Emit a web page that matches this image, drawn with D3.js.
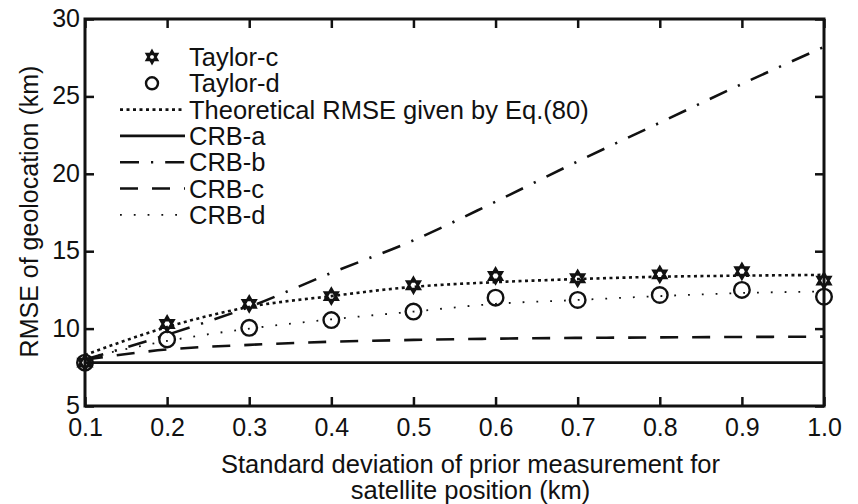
<!DOCTYPE html>
<html>
<head>
<meta charset="utf-8">
<script src="https://cdn.jsdelivr.net/npm/d3@7"></script>
<style>
  body { margin: 0; background: #fff; }
  svg { display: block; font-family: "Liberation Sans", Arial, sans-serif; }
</style>
</head>
<body>
<svg id="chart" width="858" height="504"></svg>
<script>
// std. deviation of prior satellite position (km)
const sigma = [0.1, 0.2, 0.3, 0.4, 0.5, 0.6, 0.7, 0.8, 0.9, 1.0];

const taylorC = [7.8, 10.3, 11.6, 12.1, 12.8, 13.4, 13.25, 13.5, 13.7, 13.1];
const taylorD = [7.8, 9.3, 10.05, 10.55, 11.1, 12.0, 11.85, 12.17, 12.5, 12.06];
const theory  = [8.3, 10.1, 11.4, 12.1, 12.7, 13.0, 13.2, 13.35, 13.42, 13.47];
const crbA    = [7.8, 7.8, 7.8, 7.8, 7.8, 7.8, 7.8, 7.8, 7.8, 7.8];
const crbB    = [8.0, 9.6, 11.4, 13.6, 15.7, 18.2, 20.8, 23.3, 25.8, 28.2];
const crbC    = [8.0, 8.65, 8.95, 9.15, 9.27, 9.35, 9.4, 9.43, 9.46, 9.48];
const crbD    = [8.1, 9.2, 10.0, 10.6, 11.1, 11.6, 11.85, 12.1, 12.3, 12.4];

const xTicks = [0.1, 0.2, 0.3, 0.4, 0.5, 0.6, 0.7, 0.8, 0.9, 1.0];
const yTicks = [5, 10, 15, 20, 25, 30];

const margins = { top: 19, right: 34, bottom: 98, left: 85 };
const width = 858 - margins.left - margins.right;
const height = 504 - margins.top - margins.bottom;

const ink = '#111';

const svg = d3.select('#chart');
const g = svg.append('g').attr('transform', 'translate(' + margins.left + ',' + margins.top + ')');

const x = d3.scaleLinear().domain([0.1, 1.0]).range([0, width]);
const y = d3.scaleLinear().domain([5, 30]).range([height, 0]);

const zip = vals => sigma.map((s, i) => ({ s: s, v: vals[i] }));
const line = d3.line().x(d => x(d.s)).y(d => y(d.v)).curve(d3.curveMonotoneX);

const styles = {
    theory: { width: 2.6, dash: '3,3.5' },
    crbA:   { width: 2.6, dash: null },
    crbB:   { width: 2.6, dash: '19,12,2.2,12' },
    crbC:   { width: 2.6, dash: '18,14' },
    crbD:   { width: 1.8, dash: '1.8,12' }
};

const lines = [
    { key: 'crbA', data: crbA },
    { key: 'crbC', data: crbC },
    { key: 'crbD', data: crbD },
    { key: 'crbB', data: crbB },
    { key: 'theory', data: theory }
];

const plot = g.append('g');
lines.forEach(l => {
    plot.append('path')
        .datum(zip(l.data))
        .attr('fill', 'none')
        .attr('stroke', ink)
        .attr('stroke-width', styles[l.key].width)
        .attr('stroke-dasharray', styles[l.key].dash)
        .attr('d', line);
});

// hexagram marker, like matlab's 'h'
function hexagram(r) {
    const tri = a => d3.range(3).map(k => {
        const t = a + k * 2 * Math.PI / 3;
        return [r * Math.sin(t), -r * Math.cos(t)];
    });
    return 'M' + tri(0).join('L') + 'Z M' + tri(Math.PI).join('L') + 'Z';
}

plot.selectAll('.star').data(zip(taylorC)).enter().append('path')
    .attr('class', 'star')
    .attr('transform', d => 'translate(' + x(d.s) + ',' + y(d.v) + ')')
    .attr('d', hexagram(7.5))
    .attr('fill', 'none')
    .attr('stroke', ink)
    .attr('stroke-width', 2.4);

plot.selectAll('.circ').data(zip(taylorD)).enter().append('circle')
    .attr('class', 'circ')
    .attr('cx', d => x(d.s))
    .attr('cy', d => y(d.v))
    .attr('r', 7.8)
    .attr('fill', 'none')
    .attr('stroke', ink)
    .attr('stroke-width', 2.4);

// frame and inward ticks on all four sides
const axisStyle = sel => {
    sel.select('.domain').remove();
    sel.selectAll('.tick line').attr('stroke', ink).attr('stroke-width', 2.5);
    sel.selectAll('text').attr('fill', ink).style('font-size', '25px');
};

g.append('g').attr('transform', 'translate(0,' + height + ')')
    .call(d3.axisBottom(x).tickValues(xTicks).tickSize(-9).tickPadding(12).tickFormat(d3.format('.1f')))
    .call(axisStyle);
g.append('g')
    .call(d3.axisTop(x).tickValues(xTicks).tickSize(-9).tickFormat(''))
    .call(axisStyle);
g.append('g')
    .call(d3.axisLeft(y).tickValues(yTicks).tickSize(-9).tickPadding(5))
    .call(axisStyle)
    .call(a => a.selectAll('text').attr('dy', '0.3em'));
g.append('g').attr('transform', 'translate(' + width + ',0)')
    .call(d3.axisRight(y).tickValues(yTicks).tickSize(-9).tickFormat(''))
    .call(axisStyle);

g.append('rect')
    .attr('width', width).attr('height', height)
    .attr('fill', 'none').attr('stroke', ink).attr('stroke-width', 3);

// axis titles
g.append('text')
    .attr('transform', 'translate(-56,' + (height / 2 - 1) + ') rotate(-90)')
    .attr('text-anchor', 'middle')
    .attr('dy', '0.35em')
    .attr('fill', ink).style('font-size', '25px')
    .text('RMSE of geolocation (km)');

const xt = g.append('text')
    .attr('text-anchor', 'middle')
    .attr('fill', ink).style('font-size', '25.5px');
xt.append('tspan').attr('x', width / 2 + 16).attr('y', height + 67).text('Standard deviation of prior measurement for');
xt.append('tspan').attr('x', width / 2 + 16).attr('y', height + 93).text('satellite position (km)');

// legend
const legendItems = [
    { label: 'Taylor-c', kind: 'star' },
    { label: 'Taylor-d', kind: 'circle' },
    { label: 'Theoretical RMSE given by Eq.(80)', kind: 'theory' },
    { label: 'CRB-a', kind: 'crbA' },
    { label: 'CRB-b', kind: 'crbB' },
    { label: 'CRB-c', kind: 'crbC' },
    { label: 'CRB-d', kind: 'crbD' }
];

const legend = g.append('g').attr('transform', 'translate(35,38)');
legendItems.forEach((it, i) => {
    const row = legend.append('g').attr('transform', 'translate(0,' + i * 26.3 + ')');
    if (it.kind === 'star') {
        row.append('path').attr('transform', 'translate(32,0)').attr('d', hexagram(6))
            .attr('fill', 'none').attr('stroke', ink).attr('stroke-width', 2.4);
    } else if (it.kind === 'circle') {
        row.append('circle').attr('cx', 32).attr('r', 6)
            .attr('fill', 'none').attr('stroke', ink).attr('stroke-width', 2.4);
    } else {
        row.append('line').attr('x1', 0).attr('x2', 65)
            .attr('stroke', ink)
            .attr('stroke-width', styles[it.kind].width)
            .attr('stroke-dasharray', styles[it.kind].dash);
    }
    row.append('text').attr('x', 69).attr('dy', '0.36em')
        .attr('fill', ink).style('font-size', '25.5px')
        .text(it.label);
});
</script>
</body>
</html>
